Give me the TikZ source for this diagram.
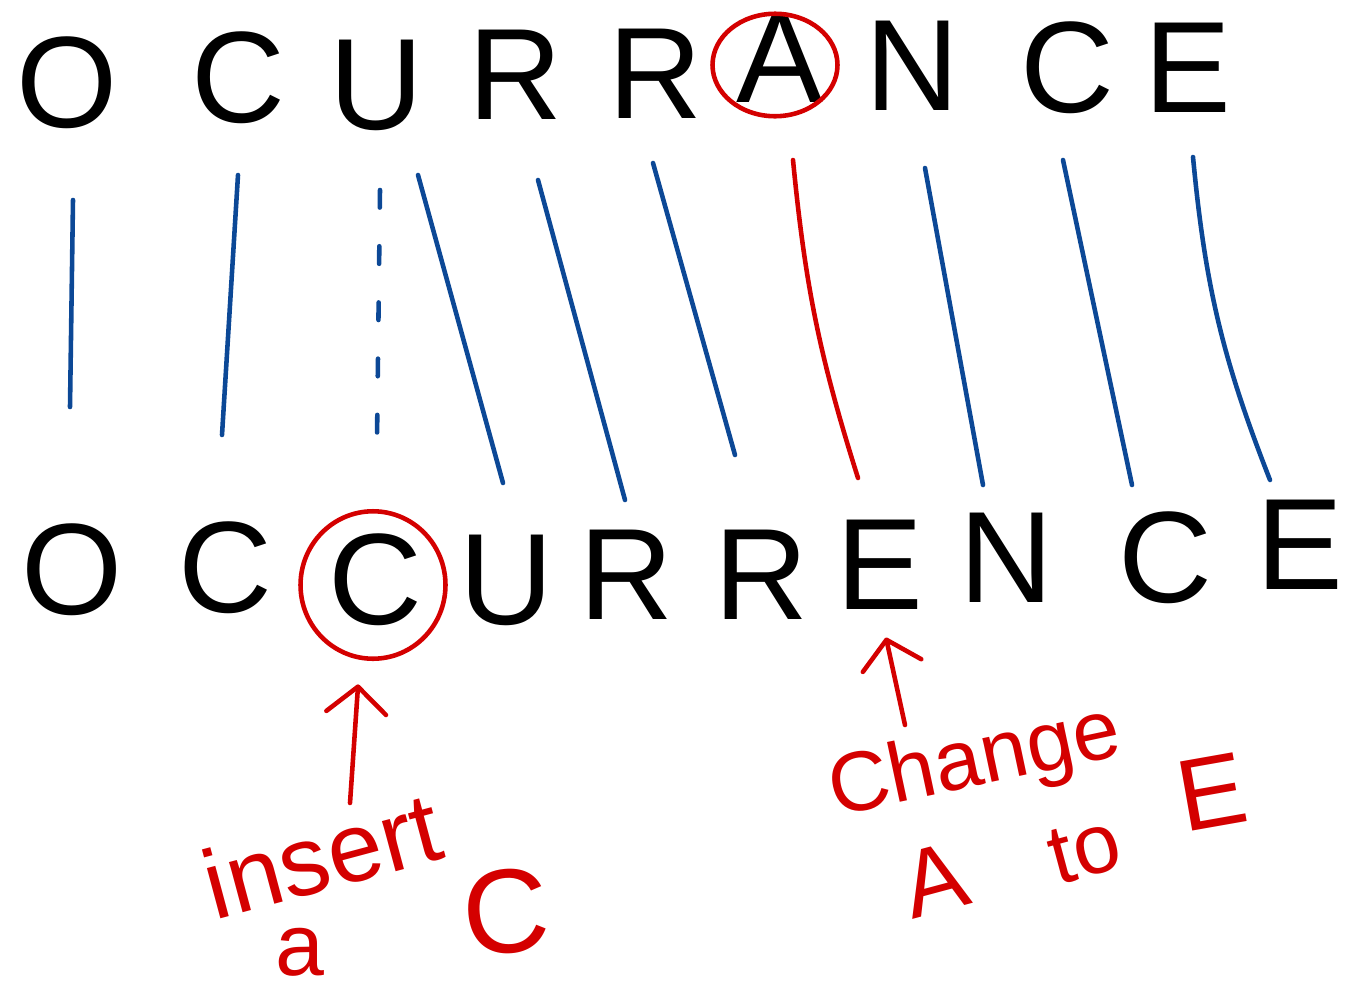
\documentclass[tikz,border=0pt]{standalone}
\usepackage{fontspec}
\setmainfont{Liberation Sans}
\usepackage{xcolor}
\usepackage{tikz}
\usetikzlibrary{arrows.meta,shapes.geometric}

\definecolor{penblue}{RGB}{12,72,150}
\definecolor{penred}{RGB}{212,0,0}

\begin{document}
\begin{tikzpicture}[x=0.02cm, y=-0.02cm,
    letter/.style={inner sep=0pt, font=\fontsize{74}{74}\selectfont},
    link/.style={penblue, line width=2.6pt, line cap=round},
    redpen/.style={penred, line width=2.6pt, line cap=round},
    ring/.style={ellipse, draw=penred, line width=2.6pt, inner sep=0pt},
    note/.style={penred, inner sep=0pt},
    pointer/.style={redpen, -{Straight Barb[length=15pt, width=34pt, round]}}]
  \useasboundingbox (0,0) rectangle (1349,998);
  \node[letter] (t1) at (67,83) {O};
  \node[letter] (t2) at (238,78) {C};
  \node[letter] (t3) at (376,85) {U};
  \node[letter] (t4) at (515,75) {R};
  \node[letter] (t5) at (655,74) {R};
  \node[letter] (t6) at (780,58) {A};
  \node[letter] (t7) at (912,66) {N};
  \node[letter] (t8) at (1067,68) {C};
  \node[letter] (t9) at (1188,68) {E};
  \node[letter] (b1) at (72,570) {O};
  \node[letter] (b2) at (225,568) {C};
  \node[letter] (b3) at (375,580) {C};
  \node[letter] (b4) at (506,580) {U};
  \node[letter] (b5) at (626,575) {R};
  \node[letter] (b6) at (761,575) {R};
  \node[letter] (b7) at (880,565) {E};
  \node[letter] (b8) at (1006,558) {N};
  \node[letter] (b9) at (1165,558) {C};
  \node[letter] (b10) at (1300,545) {E};
  \node[ring, minimum width=2.5cm, minimum height=2.05cm] (ringA) at (775,65) {};
  \node[ring, minimum width=2.9cm, minimum height=2.95cm] (ringC) at (373,585) {};
  \coordinate (s1) at (73,200);   \coordinate (e1) at (70,407);
  \coordinate (s2) at (238,175);  \coordinate (e2) at (222,435);
  \coordinate (s3) at (380,190);  \coordinate (e3) at (377,440);
  \coordinate (s4) at (418,175);  \coordinate (e4) at (503,483);
  \coordinate (s5) at (538,180);  \coordinate (e5) at (625,500);
  \coordinate (s6) at (653,163);  \coordinate (e6) at (735,455);
  \coordinate (s7) at (793,160);  \coordinate (e7) at (858,478);
  \coordinate (s8) at (925,168);  \coordinate (e8) at (983,485);
  \coordinate (s9) at (1063,160); \coordinate (e9) at (1132,485);
  \coordinate (s10) at (1193,157); \coordinate (e10) at (1270,480);
  \draw[link] (s1) -- (e1);
  \draw[link] (s2) -- (e2);
  \draw[link, dash pattern=on 10pt off 22pt] (s3) -- (e3);
  \draw[link] (s4) -- (e4);
  \draw[link] (s5) -- (e5);
  \draw[link] (s6) -- (e6);
  \draw[redpen] (s7) to[bend right=6] (e7);
  \draw[link] (s8) -- (e8);
  \draw[link] (s9) -- (e9);
  \draw[link] (s10) to[bend right=8] (e10);
  \node[note, rotate=15, font=\fontsize{56}{56}\selectfont] (insWord) at (322,855) {insert};
  \node[note, font=\fontsize{50}{50}\selectfont] (insA) at (300,952) {a};
  \node[note, rotate=5, font=\fontsize{68}{68}\selectfont] (insC) at (506,912) {C};
  \node[note, rotate=12, font=\fontsize{48}{48}\selectfont] (chWord) at (975,764) {Change};
  \node[note, rotate=15, font=\fontsize{54}{54}\selectfont] (chA) at (935,880) {A};
  \node[note, rotate=15, font=\fontsize{48}{48}\selectfont] (chTo) at (1085,850) {to};
  \node[note, rotate=10, font=\fontsize{58}{58}\selectfont] (chE) at (1212,792) {E};
  \coordinate (insTail) at (350,803);
  \coordinate (chTail) at (905,725);
  \draw[pointer, shorten >=14pt] (insTail) -- (ringC.-100);
  \draw[pointer, shorten >=16pt] (chTail) -- (b7.south);
\end{tikzpicture}
\end{document}
